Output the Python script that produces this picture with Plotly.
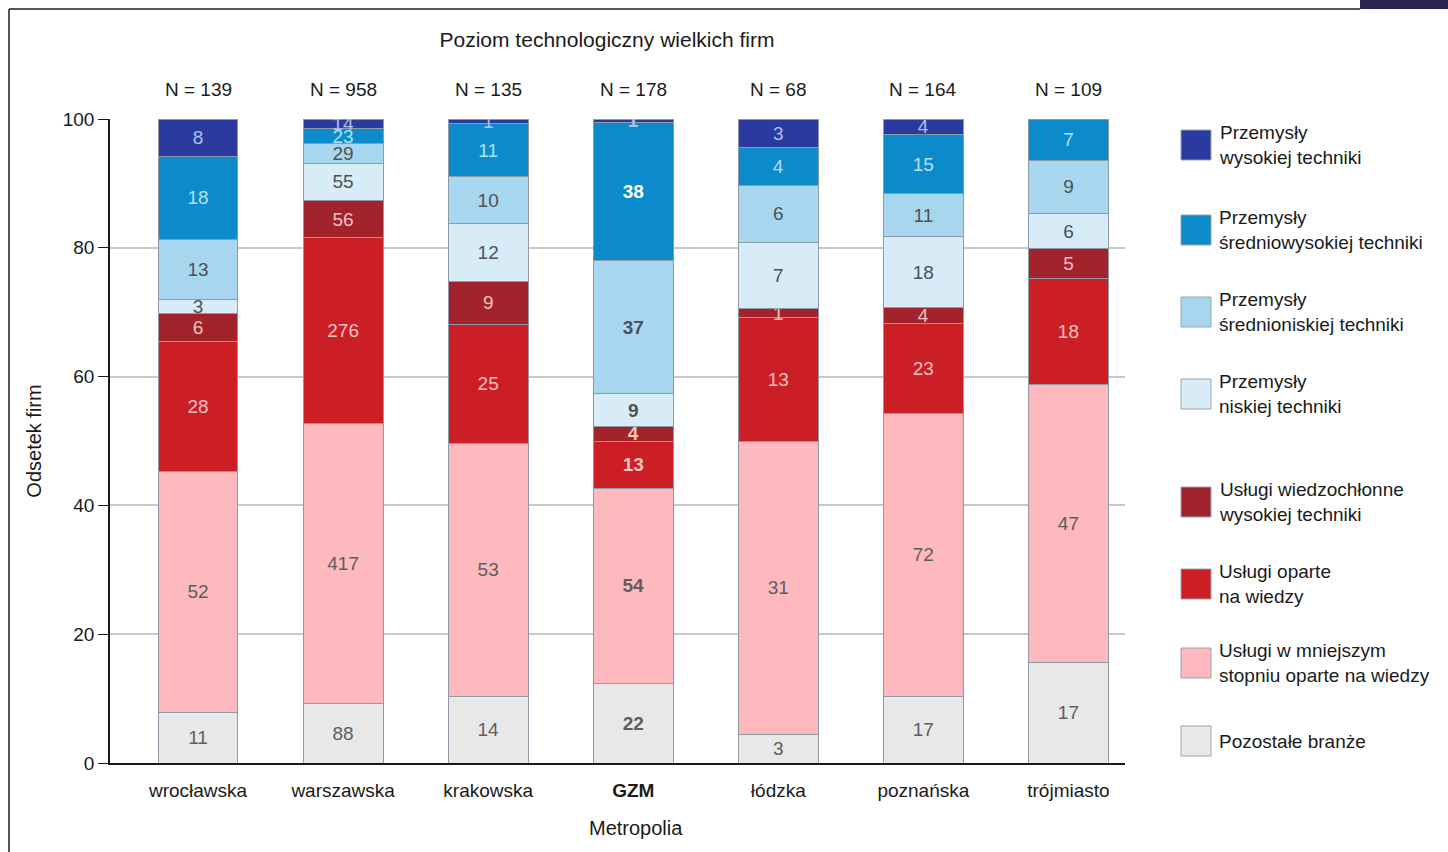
import plotly.graph_objects as go

# ── Data ──────────────────────────────────
metros = ["wrocławska", "warszawska", "krakowska", "GZM", "łódzka", "poznańska", "trójmiasto"]

# counts of firms per category (bottom of stack first)
pozostale        = [11, 88, 14, 22, 3, 17, 17]
uslugi_mniej     = [52, 417, 53, 54, 31, 72, 47]
uslugi_wiedza    = [28, 276, 25, 13, 13, 23, 18]
uslugi_wysokie   = [6, 56, 9, 4, 1, 4, 5]
przem_niskie     = [3, 55, 12, 9, 7, 18, 6]
przem_sr_niskie  = [13, 29, 10, 37, 6, 11, 9]
przem_sr_wysokie = [18, 23, 11, 38, 4, 15, 7]
przem_wysokie    = [8, 14, 1, 1, 3, 4, 0]

series = [
    ("Pozostałe branże",                          pozostale,        "#E8E8E8", "#5E5E5E"),
    ("Usługi w mniejszym<br>stopniu oparte na wiedzy", uslugi_mniej, "#FDB9BD", "#5E5E5E"),
    ("Usługi oparte<br>na wiedzy",                uslugi_wiedza,    "#CB1E25", "#F6C2C4"),
    ("Usługi wiedzochłonne<br>wysokiej techniki", uslugi_wysokie,   "#A2232B", "#F6C2C4"),
    ("Przemysły<br>niskiej techniki",             przem_niskie,     "#D8ECF8", "#4A525A"),
    ("Przemysły<br>średnioniskiej techniki",      przem_sr_niskie,  "#A9D6EF", "#4A525A"),
    ("Przemysły<br>średniowysokiej techniki",     przem_sr_wysokie, "#0B8BC9", "#B6DFF4"),
    ("Przemysły<br>wysokiej techniki",            przem_wysokie,    "#2B3A9F", "#AFC0EE"),
]

totals = [sum(s[1][i] for s in series) for i in range(len(metros))]

FONT = "Liberation Sans Narrow, Arial Narrow, Liberation Sans, sans-serif"

W, H = 1448, 852
# plot area in pixels (for layout helpers)
PX_L, PX_R, PX_T, PX_B = 110, 1125, 119, 763


def px(xp):
    return (xp - PX_L) / (PX_R - PX_L)


def py(yp):
    return (PX_B - yp) / (PX_B - PX_T)


fig = go.Figure()

for name, vals, colour, txt_colour in series:
    texts, colours = [], []
    for m, v in zip(metros, vals):
        if v == 0:
            texts.append("")
        elif m == "GZM":
            texts.append(f"<b>{v}</b>")
        else:
            texts.append(str(v))
        if m == "GZM" and name.endswith("średniowysokiej techniki"):
            colours.append("#FFFFFF")
        else:
            colours.append(txt_colour)
    fig.add_trace(go.Bar(
        x=metros, y=vals, name=name,
        marker=dict(color=colour, line=dict(color="#8E9AA6", width=1)),
        text=texts, textposition="inside", insidetextanchor="middle",
        textangle=0, textfont=dict(color=colours, size=19, family=FONT),
        width=0.55, showlegend=False,
    ))

# N labels above the bars
for m, n in zip(metros, totals):
    fig.add_annotation(x=m, y=py(89), yref="paper", yanchor="middle", text=f"N = {n}",
                       showarrow=False, font=dict(size=19, color="#1A1A1A", family=FONT))

# x-axis title (centred under the bars, not the plot area)
fig.add_annotation(xref="paper", yref="paper", x=px(636), y=py(828), yanchor="middle",
                   text="Metropolia", showarrow=False,
                   font=dict(size=20, color="#1A1A1A", family=FONT))

# ── Custom legend (top item first) ──
legend_y = [145, 230, 312, 394, 502, 584, 663, 741]
for (name, vals, colour, _), yc in zip(series[::-1], legend_y):
    fig.add_shape(type="rect", xref="paper", yref="paper",
                  x0=px(1181), x1=px(1211), y0=py(yc + 15), y1=py(yc - 15),
                  fillcolor=colour, line=dict(color="#9AA4AE", width=1))
    fig.add_annotation(xref="paper", yref="paper", x=px(1217), y=py(yc),
                       xanchor="left", yanchor="middle", align="left",
                       text=name, showarrow=False,
                       font=dict(size=19, color="#1A1A1A", family=FONT))

# frame
fig.add_shape(type="line", xref="paper", yref="paper",
              x0=px(9), x1=px(1360), y0=py(9), y1=py(9), line=dict(color="#555555", width=2))
fig.add_shape(type="line", xref="paper", yref="paper",
              x0=px(9), x1=px(9), y0=py(9), y1=py(852), line=dict(color="#555555", width=2))
fig.add_shape(type="rect", xref="paper", yref="paper",
              x0=px(1360), x1=px(1448), y0=py(0), y1=py(9),
              fillcolor="#2E2350", line=dict(width=0))

fig.update_layout(
    barmode="stack", barnorm="percent",
    width=W, height=H,
    paper_bgcolor="white", plot_bgcolor="white",
    font=dict(family=FONT, size=19, color="#1A1A1A"),
    margin=dict(l=PX_L, r=W - PX_R, t=PX_T, b=H - PX_B),
    title=dict(text="Poziom technologiczny wielkich firm", x=607 / W, xanchor="center",
               y=1 - 40 / H, yanchor="middle", font=dict(size=21, family=FONT)),
    uniformtext=dict(mode="show", minsize=19),
)

fig.update_xaxes(
    range=[-0.607, 6.39], tickvals=metros,
    ticktext=[f"<b>{m}</b>" if m == "GZM" else m for m in metros],
    showline=True, linecolor="#1A1A1A", linewidth=1.5, ticks="",
    ticklabelstandoff=9,
    tickfont=dict(size=19),
)
fig.update_yaxes(
    range=[0, 100], dtick=20, showgrid=True, gridcolor="#C8C8C8", gridwidth=1.5,
    showline=True, linecolor="#1A1A1A", linewidth=1.5,
    ticks="outside", ticklen=10, tickcolor="#1A1A1A",
    title=dict(text="Odsetek firm", standoff=16, font=dict(size=20)),
    tickfont=dict(size=19), zeroline=False,
)

fig.write_html("out.html", config={"displayModeBar": False},
               post_script="document.body.style.margin='0px';")
